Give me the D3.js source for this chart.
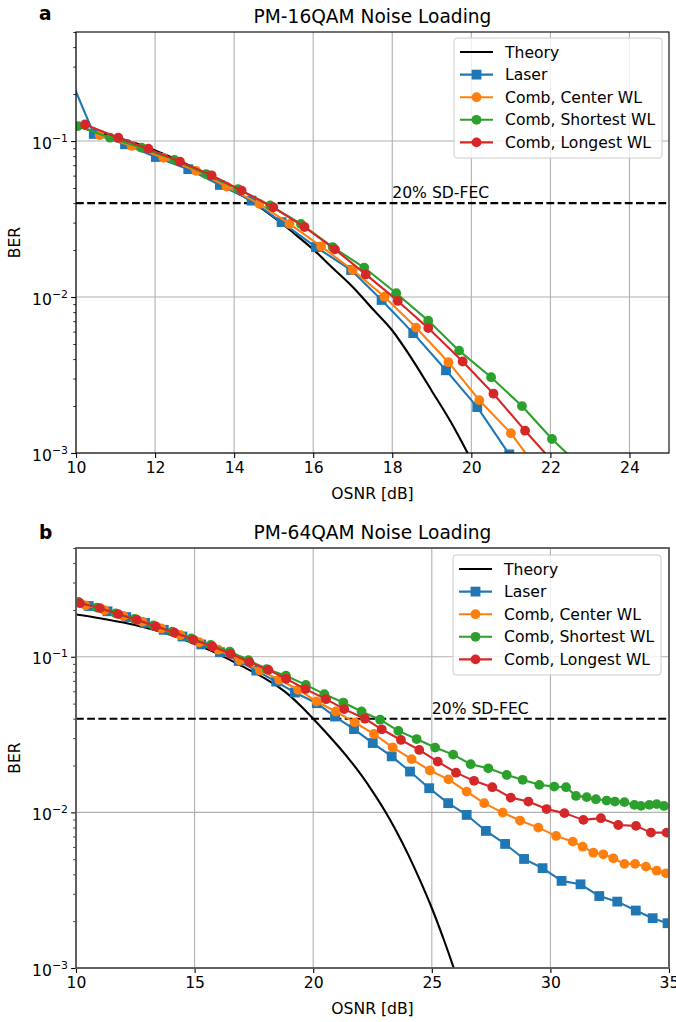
<!DOCTYPE html>
<html>
<head>
<meta charset="utf-8">
<script src="https://cdn.jsdelivr.net/npm/d3@7"></script>
<style>
  body { margin: 0; background: #fff; }
  text { font-family: "DejaVu Sans", sans-serif; }
</style>
</head>
<body>
<svg id="fig" width="676" height="1022"></svg>
<script>
// ---------- Panel a: PM-16QAM ----------
const a_theoryX = [10, 10.5, 11, 11.5, 12, 12.5, 13, 13.5, 14, 14.5, 15, 15.5, 16, 16.5, 17, 17.5, 18, 18.5, 19, 19.5, 20];
const a_theoryBER = [0.124, 0.115, 0.106, 0.097, 0.087, 0.077, 0.067, 0.057, 0.048, 0.040, 0.0325, 0.0258, 0.0202, 0.0153, 0.0116, 0.0084, 0.0061, 0.0040, 0.0025, 0.00155, 0.00090];

const a_laserX = [9.6, 10.45, 11.24, 12.02, 12.84, 13.64, 14.44, 15.2, 16.07, 16.96, 17.73, 18.53, 19.36, 20.15, 20.96];
const a_laserBER = [0.36, 0.111, 0.0953, 0.079, 0.066, 0.0523, 0.0415, 0.0302, 0.0209, 0.0149, 0.00957, 0.00587, 0.00339, 0.00197, 0.00098];

const a_centerX = [10.6, 11.41, 12.21, 13.04, 13.81, 14.64, 15.4, 16.2, 17.0, 17.8, 18.6, 19.42, 20.2, 21.0, 21.8];
const a_centerBER = [0.109, 0.093, 0.078, 0.0644, 0.051, 0.0395, 0.0294, 0.0211, 0.0149, 0.01005, 0.00637, 0.00382, 0.00218, 0.00134, 0.00071];

const a_shortestX = [10.05, 10.86, 11.66, 12.49, 13.29, 14.1, 14.91, 15.69, 16.49, 17.29, 18.1, 18.91, 19.69, 20.5, 21.28, 22.04, 22.85];
const a_shortestBER = [0.1247, 0.105, 0.0906, 0.0757, 0.0614, 0.0492, 0.0386, 0.0294, 0.0209, 0.01545, 0.01057, 0.00706, 0.00453, 0.00306, 0.0020, 0.00123, 0.00078];

const a_longestX = [10.23, 11.07, 11.83, 12.63, 13.43, 14.19, 14.99, 15.78, 16.55, 17.33, 18.14, 18.91, 19.78, 20.56, 21.36, 22.15];
const a_longestBER = [0.1277, 0.105, 0.0893, 0.0738, 0.0603, 0.0481, 0.0376, 0.0281, 0.0202, 0.01396, 0.00944, 0.00632, 0.00386, 0.0024, 0.00139, 0.00083];

const a_xTicks = [10, 12, 14, 16, 18, 20, 22, 24];

// ---------- Panel b: PM-64QAM ----------
const b_theoryX = [10, 11, 12, 13, 14, 15, 16, 17, 18, 18.5, 19, 19.5, 20, 20.5, 21, 21.5, 22, 22.5, 23, 23.5, 24, 24.5, 25, 25.5, 26, 26.5];
const b_theoryBER = [0.187, 0.177, 0.166, 0.153, 0.138, 0.121, 0.104, 0.087, 0.072, 0.0645, 0.0565, 0.0479, 0.040, 0.0331, 0.0272, 0.0221, 0.0176, 0.01365, 0.01035, 0.00759, 0.00537, 0.00367, 0.00243, 0.00153, 0.000923, 0.000525];

const b_laserX = [10.54, 11.33, 12.12, 12.91, 13.7, 14.49, 15.28, 16.07, 16.86, 17.6, 18.44, 19.23, 20.15, 20.92, 21.72, 22.51, 23.31, 24.08, 24.89, 25.69, 26.47, 27.28, 28.09, 28.89, 29.67, 30.47, 31.27, 32.06, 32.82, 33.6, 34.31, 34.94];
const b_laserBER = [0.212, 0.196, 0.18, 0.165, 0.149, 0.135, 0.12, 0.107, 0.094, 0.0815, 0.0693, 0.0589, 0.0503, 0.0413, 0.0343, 0.0279, 0.0229, 0.0183, 0.0143, 0.01146, 0.00963, 0.0076, 0.00627, 0.00502, 0.00438, 0.00363, 0.00345, 0.0029, 0.00267, 0.00234, 0.00209, 0.00194];

const b_centerX = [10.4, 11.2, 12.0, 12.8, 13.6, 14.4, 15.2, 16.0, 16.9, 17.76, 18.57, 19.37, 20.14, 20.95, 21.75, 22.56, 23.35, 24.15, 24.92, 25.7, 26.47, 27.21, 27.99, 28.72, 29.49, 30.24, 30.94, 31.36, 31.81, 32.23, 32.65, 33.12, 33.57, 34.03, 34.48, 34.87];
const b_centerBER = [0.214, 0.199, 0.183, 0.168, 0.152, 0.138, 0.124, 0.111, 0.095, 0.0817, 0.0712, 0.0614, 0.0516, 0.0445, 0.0379, 0.0319, 0.0262, 0.022, 0.0186, 0.0163, 0.0136, 0.01146, 0.00997, 0.00886, 0.00798, 0.00706, 0.00649, 0.00602, 0.00551, 0.00538, 0.00507, 0.00467, 0.00467, 0.00448, 0.00422, 0.00406];

const b_shortestX = [10.1, 10.88, 11.67, 12.47, 13.26, 14.06, 14.86, 15.68, 16.48, 17.27, 18.04, 18.85, 19.69, 20.47, 21.27, 22.04, 22.82, 23.59, 24.36, 25.14, 25.9, 26.64, 27.38, 28.16, 28.83, 29.53, 30.16, 30.66, 31.08, 31.53, 31.92, 32.37, 32.72, 33.12, 33.54, 33.82, 34.17, 34.48, 34.79];
const b_shortestBER = [0.225, 0.207, 0.19, 0.175, 0.159, 0.145, 0.131, 0.119, 0.108, 0.095, 0.0834, 0.0755, 0.066, 0.0575, 0.0508, 0.0445, 0.0394, 0.0334, 0.0296, 0.0261, 0.0235, 0.0204, 0.0192, 0.0174, 0.0162, 0.01503, 0.01466, 0.01452, 0.01276, 0.01253, 0.01216, 0.01191, 0.01174, 0.01164, 0.01117, 0.01101, 0.01117, 0.0113, 0.0110];

const b_longestX = [10.17, 11.01, 11.78, 12.56, 13.36, 14.15, 14.95, 15.75, 16.52, 17.31, 18.11, 18.86, 19.68, 20.54, 21.31, 22.18, 22.89, 23.7, 24.47, 25.25, 26.02, 26.78, 27.55, 28.33, 29.07, 29.84, 30.59, 31.39, 32.13, 32.86, 33.61, 34.24, 34.9];
const b_longestBER = [0.221, 0.2055, 0.188, 0.173, 0.157, 0.143, 0.1285, 0.1164, 0.1045, 0.0924, 0.0824, 0.0722, 0.062, 0.0534, 0.0461, 0.040, 0.0342, 0.0292, 0.0252, 0.0212, 0.018, 0.01595, 0.01452, 0.01244, 0.01174, 0.0105, 0.00989, 0.00895, 0.00918, 0.0083, 0.00819, 0.00741, 0.00741];

const b_xTicks = [10, 15, 20, 25, 30, 35];

// ---------- shared ----------
const seriesNames = ["Theory", "Laser", "Comb, Center WL", "Comb, Shortest WL", "Comb, Longest WL"];
const seriesColors = ["#000000", "#1f77b4", "#ff7f0e", "#2ca02c", "#d62728"];
const seriesMarkers = ["none", "square", "circle", "circle", "circle"];
const fecLevel = 0.04;
const fecLabel = "20% SD-FEC";
const yDomain = [1e-3, 0.5];
const yMajor = [1e-3, 1e-2, 1e-1];
const yMajorExp = ["−3", "−2", "−1"];

const svg = d3.select("#fig");
const FS = 15.6;      // tick, axis-label and legend text
const FS_TITLE = 18.6;

function zip(xs, ys) { return xs.map((v, i) => [v, ys[i]]); }

function drawPanel(p) {
  const x = d3.scaleLinear().domain(p.xDomain).range([p.left, p.right]);
  const y = d3.scaleLog().domain(yDomain).range([p.bottom, p.top]);
  const g = svg.append("g");

  g.append("clipPath").attr("id", "clip-" + p.tag)
    .append("rect").attr("x", p.left).attr("y", p.top)
    .attr("width", p.right - p.left).attr("height", p.bottom - p.top);

  // grid
  const grid = g.append("g").attr("stroke", "#b0b0b0").attr("stroke-width", 1.1);
  grid.selectAll("line.vx").data(p.xTicks).join("line")
    .attr("x1", d => x(d)).attr("x2", d => x(d)).attr("y1", p.top).attr("y2", p.bottom);
  grid.selectAll("line.hy").data(yMajor).join("line")
    .attr("x1", p.left).attr("x2", p.right).attr("y1", d => y(d)).attr("y2", d => y(d));

  // x axis
  const xAxis = d3.axisBottom(x).tickValues(p.xTicks).tickFormat(d3.format("d"))
    .tickSize(4.9).tickPadding(4.3);
  const gx = g.append("g").attr("transform", `translate(0,${p.bottom})`).call(xAxis);
  gx.select(".domain").remove();
  gx.selectAll("text").attr("font-size", FS).attr("font-family", "DejaVu Sans").attr("fill", "#000");
  gx.selectAll("line").attr("stroke", "#000").attr("stroke-width", 1.1);

  // y axis: minor and major ticks on the log scale
  const minor = [];
  [1e-3, 1e-2, 1e-1].forEach(dec => { for (let k = 2; k <= 9; k++) { const v = dec * k; if (v <= yDomain[1] + 1e-12) minor.push(v); } });
  const gym = g.append("g").attr("transform", `translate(${p.left},0)`)
    .call(d3.axisLeft(y).tickValues(minor).tickFormat("").tickSize(2.8));
  gym.select(".domain").remove();
  gym.selectAll("line").attr("stroke", "#000").attr("stroke-width", 0.8);
  const gy = g.append("g").attr("transform", `translate(${p.left},0)`)
    .call(d3.axisLeft(y).tickValues(yMajor).tickFormat("").tickSize(4.9));
  gy.select(".domain").remove();
  gy.selectAll("line").attr("stroke", "#000").attr("stroke-width", 1.1);

  // y tick labels as powers of ten
  const yl = g.append("g");
  yMajor.forEach((v, i) => {
    const t = yl.append("text").attr("x", p.left - 8).attr("y", y(v) + 7.5)
      .attr("text-anchor", "end").attr("font-size", FS);
    t.append("tspan").text("10");
    t.append("tspan").attr("font-size", FS * 0.7).attr("dy", -7).text(yMajorExp[i]);
  });

  // FEC threshold
  g.append("line").attr("x1", p.left).attr("x2", p.right)
    .attr("y1", y(fecLevel)).attr("y2", y(fecLevel))
    .attr("stroke", "#000").attr("stroke-width", 2.1).attr("stroke-dasharray", "7.8,3.4");
  g.append("text").attr("x", x(p.fecX)).attr("y", y(fecLevel) - 5)
    .attr("font-size", FS).text(fecLabel);

  // data series
  const plot = g.append("g").attr("clip-path", `url(#clip-${p.tag})`);
  p.series.forEach((s, i) => {
    const pts = zip(s[0], s[1]);
    const col = seriesColors[i];
    const line = d3.line().x(d => x(d[0])).y(d => y(d[1]));
    if (i === 0) line.curve(d3.curveMonotoneX);
    const sg = plot.append("g");
    sg.append("path").datum(pts).attr("d", line).attr("fill", "none")
      .attr("stroke", col).attr("stroke-width", 2.1).attr("stroke-linejoin", "round");
    if (seriesMarkers[i] === "square") {
      sg.selectAll("rect").data(pts).join("rect")
        .attr("x", d => x(d[0]) - 4.9).attr("y", d => y(d[1]) - 4.9)
        .attr("width", 9.8).attr("height", 9.8).attr("fill", col);
    } else if (seriesMarkers[i] === "circle") {
      sg.selectAll("circle").data(pts).join("circle")
        .attr("cx", d => x(d[0])).attr("cy", d => y(d[1])).attr("r", 4.9).attr("fill", col);
    }
  });

  // frame
  g.append("rect").attr("x", p.left).attr("y", p.top)
    .attr("width", p.right - p.left).attr("height", p.bottom - p.top)
    .attr("fill", "none").attr("stroke", p.frameColor).attr("stroke-width", p.frameWidth);

  // legend
  const lg = g.append("g").attr("transform", `translate(${p.legendX},${p.legendY})`);
  lg.append("rect").attr("x", 0).attr("y", 0).attr("width", 208).attr("height", 120)
    .attr("rx", 3).attr("fill", "#fff").attr("fill-opacity", 0.8)
    .attr("stroke", "#cccccc").attr("stroke-width", 1);
  seriesNames.forEach((name, i) => {
    const cy = 14 + i * 22.6;
    lg.append("line").attr("x1", 6).attr("x2", 39).attr("y1", cy).attr("y2", cy)
      .attr("stroke", seriesColors[i]).attr("stroke-width", 2.1);
    if (seriesMarkers[i] === "square") {
      lg.append("rect").attr("x", 22.5 - 4.9).attr("y", cy - 4.9).attr("width", 9.8).attr("height", 9.8)
        .attr("fill", seriesColors[i]);
    } else if (seriesMarkers[i] === "circle") {
      lg.append("circle").attr("cx", 22.5).attr("cy", cy).attr("r", 4.9).attr("fill", seriesColors[i]);
    }
    lg.append("text").attr("x", 51).attr("y", cy + 5.6).attr("font-size", FS).text(name);
  });

  // labels
  g.append("text").attr("x", (p.left + p.right) / 2).attr("y", p.bottom + 46)
    .attr("text-anchor", "middle").attr("font-size", FS).text("OSNR [dB]");
  g.append("text").attr("transform", `translate(19.5,${(p.top + p.bottom) / 2}) rotate(-90)`)
    .attr("text-anchor", "middle").attr("font-size", FS).text("BER");
  g.append("text").attr("x", (p.left + p.right) / 2).attr("y", p.top - 9.5)
    .attr("text-anchor", "middle").attr("font-size", FS_TITLE).text(p.title);
  g.append("text").attr("x", 39).attr("y", p.tagY)
    .attr("font-size", FS_TITLE).attr("font-weight", "bold").text(p.tag);
}

drawPanel({
  tag: "a", tagY: 20, title: "PM-16QAM Noise Loading",
  left: 76, right: 669, top: 32, bottom: 453,
  xDomain: [10, 25], xTicks: a_xTicks, fecX: 18,
  legendX: 454, legendY: 38, frameColor: "#000", frameWidth: 1.1,
  series: [
    [a_theoryX, a_theoryBER], [a_laserX, a_laserBER], [a_centerX, a_centerBER],
    [a_shortestX, a_shortestBER], [a_longestX, a_longestBER]
  ]
});

drawPanel({
  tag: "b", tagY: 539, title: "PM-64QAM Noise Loading",
  left: 76, right: 669, top: 548, bottom: 968,
  xDomain: [10, 35], xTicks: b_xTicks, fecX: 25,
  legendX: 453, legendY: 555, frameColor: "#555", frameWidth: 1.8,
  series: [
    [b_theoryX, b_theoryBER], [b_laserX, b_laserBER], [b_centerX, b_centerBER],
    [b_shortestX, b_shortestBER], [b_longestX, b_longestBER]
  ]
});
</script>
</body>
</html>
